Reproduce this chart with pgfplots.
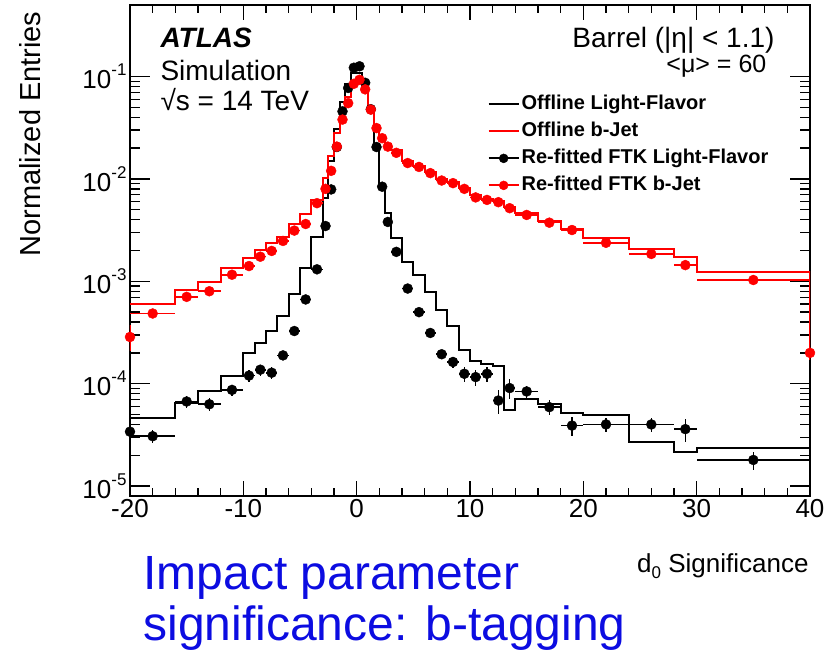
\documentclass[border=0pt]{standalone}
\usepackage{fontspec}
\setmainfont{Liberation Sans}
\usepackage{pgfplots}
\usepackage{pgfplotstable}
\pgfplotsset{compat=1.18}
\definecolor{slideblue}{RGB}{12,12,225}
\definecolor{rootred}{RGB}{255,0,0}
\newcommand{\ytl}[1]{10\raisebox{0.5em}{\fontsize{17}{17}\selectfont #1}}

% Offline Light-Flavor histogram (left bin edges, content)
\pgfplotstableread{
x y
-20 1e-6
-20 4.65e-5
-16 6.5e-5
-14 8.4e-5
-12 1.18e-4
-10 2.01e-4
-9 2.47e-4
-8 3.28e-4
-7 4.56e-4
-6 7.6e-4
-5 1.35e-3
-4 2.7e-3
-3 6.5e-3
-2.5 1.5e-2
-2 3.1e-2
-1.5 5.6e-2
-1 8.5e-2
-0.5 1.08e-1
0 1.08e-1
0.5 8.5e-2
1 5.0e-2
1.5 2.2e-2
2 8.5e-3
2.5 4.6e-3
3 2.65e-3
4 1.55e-3
5 1.15e-3
6 7.8e-4
7 5.3e-4
8 3.64e-4
9 2.12e-4
10 1.67e-4
11 1.55e-4
12 1.49e-4
13 5.5e-5
14 7.1e-5
16 6.3e-5
18 5.15e-5
20 5.0e-5
24 2.68e-5
28 2.17e-5
30 2.36e-5
40 2.36e-5
40 1e-6
}\offlf

% Offline b-Jet histogram
\pgfplotstableread{
x y
-20 5.98e-4
-16 8.2e-4
-14 9.9e-4
-12 1.34e-3
-10 1.69e-3
-9 2.03e-3
-8 2.37e-3
-7 2.69e-3
-6 3.63e-3
-5 4.55e-3
-4 6.24e-3
-3 1.02e-2
-2.5 1.66e-2
-2 2.8e-2
-1.5 4.3e-2
-1 6.3e-2
-0.5 8.6e-2
0 9.0e-2
0.5 7.4e-2
1 5.0e-2
1.5 3.4e-2
2 2.6e-2
2.5 2.2e-2
3 1.9e-2
4 1.5e-2
5 1.34e-2
6 1.18e-2
7 1.0e-2
8 9.3e-3
9 8.2e-3
10 6.9e-3
11 6.4e-3
12 6.1e-3
13 5.3e-3
14 4.6e-3
16 3.85e-3
18 3.25e-3
20 2.63e-3
24 2.07e-3
28 1.74e-3
30 1.24e-3
40 1.24e-3
40 2.0e-4
}\offb

% Re-fitted FTK Light-Flavor points
\pgfplotstableread{
x y ex eyp eym
-20 3.4e-5 0 2.3e-5 3.3e-5
-18 3.07e-5 2 4.5e-6 4.5e-6
-15 6.7e-5 1 9e-6 9e-6
-13 6.3e-5 1 9e-6 9e-6
-11 8.7e-5 1 1.1e-5 1.1e-5
-9.5 1.2e-4 0.5 1.6e-5 1.6e-5
-8.5 1.37e-4 0.5 1.7e-5 1.7e-5
-7.5 1.28e-4 0.5 1.7e-5 1.7e-5
-6.5 1.89e-4 0.5 1.8e-5 1.8e-5
-5.5 3.27e-4 0.5 2e-5 2e-5
-4.5 6.65e-4 0.5 3e-5 3e-5
-3.5 1.31e-3 0.5 4e-5 4e-5
-2.75 3.47e-3 0.25 0 0
-2.25 7.9e-3 0.25 0 0
-1.75 2.05e-2 0.25 0 0
-1.25 4.57e-2 0.25 0 0
-0.75 7.74e-2 0.25 0 0
-0.25 1.22e-1 0.25 0 0
0.25 1.26e-1 0.25 0 0
0.75 8.7e-2 0.25 0 0
1.25 4.8e-2 0.25 0 0
1.75 2.05e-2 0.25 0 0
2.25 8.4e-3 0.25 0 0
2.75 3.8e-3 0.25 0 0
3.5 1.94e-3 0.5 5e-5 5e-5
4.5 8.5e-4 0.5 3e-5 3e-5
5.5 5.0e-4 0.5 3e-5 3e-5
6.5 3.13e-4 0.5 2e-5 2e-5
7.5 1.94e-4 0.5 2e-5 2e-5
8.5 1.63e-4 0.5 2e-5 2e-5
9.5 1.25e-4 0.5 2e-5 2e-5
10.5 1.16e-4 0.5 2e-5 2e-5
11.5 1.25e-4 0.5 2e-5 2e-5
12.5 6.85e-5 0.5 1.8e-5 1.8e-5
13.5 9.06e-5 0.5 2e-5 2e-5
15 8.4e-5 1 1.2e-5 1.2e-5
17 5.9e-5 1 1e-5 1e-5
19 3.9e-5 1 8e-6 8e-6
22 4.0e-5 2 6e-6 6e-6
26 4.0e-5 2 6e-6 6e-6
29 3.6e-5 1 9e-6 9e-6
35 1.8e-5 5 3.5e-6 3.5e-6
}\ftklf

% Re-fitted FTK b-Jet points
\pgfplotstableread{
x y ex eyp eym
-20 2.86e-4 0 9e-5 7.5e-5
-18 4.85e-4 2 3e-5 3e-5
-15 7.05e-4 1 3e-5 3e-5
-13 8.0e-4 1 3e-5 3e-5
-11 1.16e-3 1 4e-5 4e-5
-9.5 1.41e-3 0.5 4e-5 4e-5
-8.5 1.74e-3 0.5 4e-5 4e-5
-7.5 1.98e-3 0.5 4e-5 4e-5
-6.5 2.48e-3 0.5 5e-5 5e-5
-5.5 3.13e-3 0.5 5e-5 5e-5
-4.5 3.63e-3 0.5 5e-5 5e-5
-3.5 5.8e-3 0.5 0 0
-2.75 8.0e-3 0.25 0 0
-2.25 1.2e-2 0.25 0 0
-1.75 2.07e-2 0.25 0 0
-1.25 3.8e-2 0.25 0 0
-0.75 5.5e-2 0.25 0 0
-0.25 8.5e-2 0.25 0 0
0.25 9.3e-2 0.25 0 0
0.75 7.5e-2 0.25 0 0
1.25 4.75e-2 0.25 0 0
1.75 3.14e-2 0.25 0 0
2.25 2.5e-2 0.25 0 0
2.75 2.07e-2 0.25 0 0
3.5 1.8e-2 0.5 0 0
4.5 1.43e-2 0.5 0 0
5.5 1.31e-2 0.5 0 0
6.5 1.14e-2 0.5 0 0
7.5 9.65e-3 0.5 0 0
8.5 9.1e-3 0.5 0 0
9.5 8.0e-3 0.5 0 0
10.5 6.6e-3 0.5 0 0
11.5 6.24e-3 0.5 0 0
12.5 5.93e-3 0.5 0 0
13.5 5.18e-3 0.5 0 0
15 4.45e-3 1 0 0
17 3.74e-3 1 0 0
19 3.17e-3 1 0 0
22 2.38e-3 2 0 0
26 1.85e-3 2 0 0
29 1.44e-3 1 0 0
35 1.03e-3 5 0 0
40 2.0e-4 0 3e-5 3e-5
}\ftkb

\begin{document}
\begin{tikzpicture}[x=1pt,y=1pt]
\path[use as bounding box] (0,0) rectangle (839,650);
\begin{axis}[
  at={(130pt,154pt)}, anchor=south west,
  scale only axis, width=680pt, height=491pt,
  xmin=-20, xmax=40, ymode=log, ymin=8e-6, ymax=0.5,
  xtick={-20,-10,0,10,20,30,40},
  xticklabels={-20,-10,0,10,20,30,40},
  minor xtick={-18,-16,-14,-12,-8,-6,-4,-2,2,4,6,8,12,14,16,18,22,24,26,28,32,34,36,38},
  ytick={1e-5,1e-4,1e-3,1e-2,1e-1},
  yticklabels={\ytl{-5},\ytl{-4},\ytl{-3},\ytl{-2},\ytl{-1}},
  tick align=inside,
  axis line style={line width=1.6pt},
  every tick/.style={black, line width=1.3pt},
  xtick style={/pgfplots/major tick length=15pt,/pgfplots/minor tick length=8pt},
  ytick style={/pgfplots/major tick length=20pt,/pgfplots/minor tick length=10pt},
  tick label style={font=\fontsize{26}{26}\selectfont},
  clip mode=individual,
  legend cell align=left,
  legend style={at={(0.526,0.821)}, anchor=north west, draw=none, fill=none,
    inner sep=0pt, outer sep=0pt, row sep=4pt,
    font=\bfseries\fontsize{20}{24}\selectfont,
    nodes={text height=15pt, text depth=4pt, inner sep=2pt}},
]
\addplot[black, line width=2pt, const plot, mark=none,
  legend image code/.code={\draw[black, line width=2pt] (0pt,0pt) -- (30pt,0pt);}]
  table[x=x,y=y]{\offlf};
\addlegendentry{Offline Light-Flavor}
\addplot[rootred, line width=2pt, const plot, mark=none,
  legend image code/.code={\draw[rootred, line width=2pt] (0pt,0pt) -- (30pt,0pt);}]
  table[x=x,y=y]{\offb};
\addlegendentry{Offline b-Jet}
\addplot[black, only marks, mark=*, mark size=5pt,
  legend image code/.code={\draw[black, line width=2pt] (0pt,0pt) -- (30pt,0pt); \fill[black] (15pt,0pt) circle (4.5pt);},
  error bars/.cd, x dir=both, x explicit, y dir=both, y explicit,
  error mark=none, error bar style={black, line width=1.6pt}]
  table[x=x,y=y,x error=ex,y error plus=eyp,y error minus=eym]{\ftklf};
\addlegendentry{Re-fitted FTK Light-Flavor}
\addplot[rootred, only marks, mark=*, mark size=5pt,
  legend image code/.code={\draw[rootred, line width=2pt] (0pt,0pt) -- (30pt,0pt); \fill[rootred] (15pt,0pt) circle (4.5pt);},
  error bars/.cd, x dir=both, x explicit, y dir=both, y explicit,
  error mark=none, error bar style={rootred, line width=1.6pt}]
  table[x=x,y=y,x error=ex,y error plus=eyp,y error minus=eym]{\ftkb};
\addlegendentry{Re-fitted FTK b-Jet}

\node[anchor=base west, font=\bfseries\itshape\fontsize{28}{28}\selectfont] at (rel axis cs:0.0397,0.914) {ATLAS};
\node[anchor=base west, font=\fontsize{28}{28}\selectfont] at (rel axis cs:0.0397,0.847) {Simulation};
\node[anchor=base west, font=\fontsize{28}{28}\selectfont] at (rel axis cs:0.0397,0.786) {√s = 14 TeV};
\node[anchor=base east, font=\fontsize{28}{28}\selectfont] at (rel axis cs:0.953,0.913) {Barrel (|η| \textless{} 1.1)};
\node[anchor=base east, font=\fontsize{25}{25}\selectfont] at (rel axis cs:0.941,0.862) {\textless μ\textgreater{} = 60};

\node[rotate=90, anchor=east, font=\fontsize{29}{29}\selectfont] at (rel axis cs:-0.147,0.994) {Normalized Entries};
\node[anchor=base east, font=\fontsize{26}{26}\selectfont] at (rel axis cs:1.003,-0.1548) {d\raisebox{-0.25em}{\fontsize{17}{17}\selectfont 0} Significance};
\node[anchor=base west, text=slideblue, font=\fontsize{48}{48}\selectfont] at (rel axis cs:0.0147,-0.1914) {Impact parameter};
\node[anchor=base west, text=slideblue, font=\fontsize{48}{48}\selectfont] at (rel axis cs:0.0147,-0.2933) {significance: b-tagging};
\end{axis}
\end{tikzpicture}
\end{document}
